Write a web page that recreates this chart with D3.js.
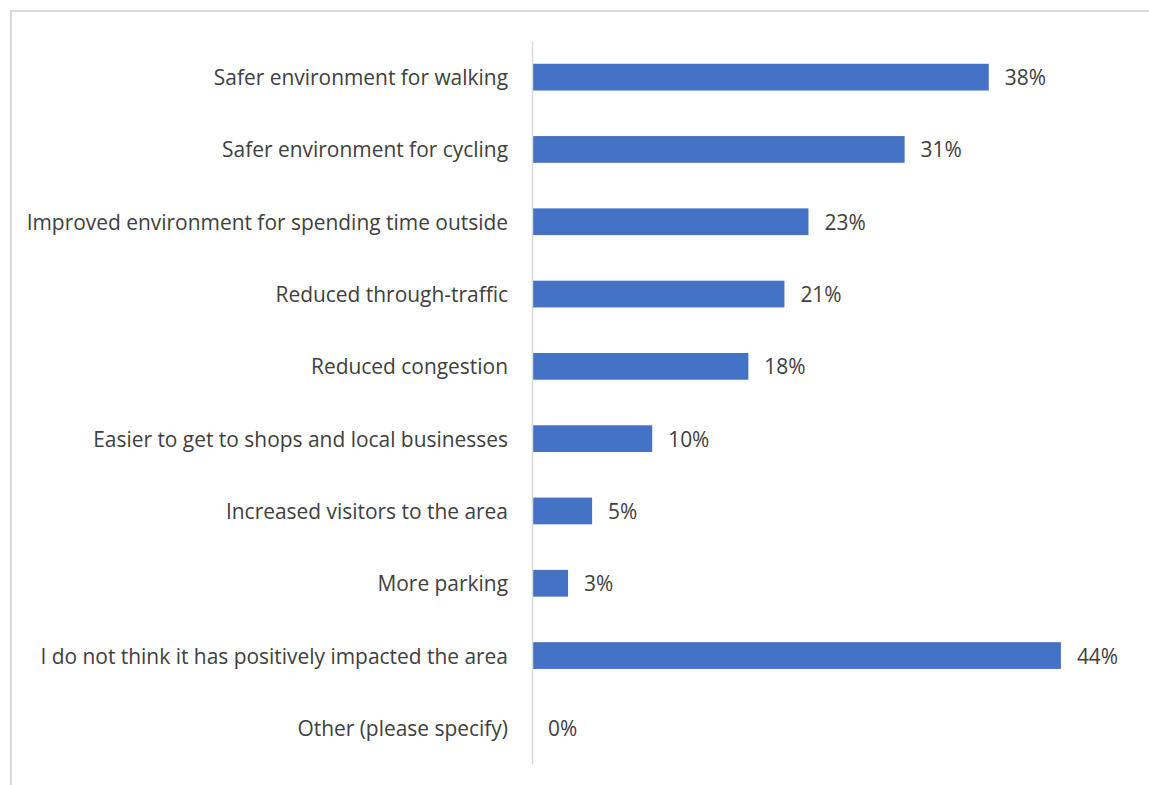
<!DOCTYPE html>
<html>
<head>
<meta charset="utf-8">
<script src="https://cdn.jsdelivr.net/npm/d3@7"></script>
<style>
  html, body { margin: 0; padding: 0; background: #fff; }
  svg { display: block; }
  text { font-family: "Open Sans", "Noto Sans", sans-serif; fill: #404040; }
</style>
</head>
<body>
<svg id="chart" width="1149" height="785"></svg>
<script>
// Survey responses: perceived positive impacts
const categories = [
  "Safer environment for walking",
  "Safer environment for cycling",
  "Improved environment for spending time outside",
  "Reduced through-traffic",
  "Reduced congestion",
  "Easier to get to shops and local businesses",
  "Increased visitors to the area",
  "More parking",
  "I do not think it has positively impacted the area",
  "Other (please specify)"
];
const values = [38, 31, 23, 21, 18, 10, 5, 3, 44, 0];

const svg = d3.select("#chart");
const W = 1149, H = 785;

// chart frame (extends past the bottom/right edge)
svg.append("rect")
  .attr("x", 11).attr("y", 11)
  .attr("width", W + 20).attr("height", H + 20)
  .attr("fill", "none").attr("stroke", "#d9d9d9").attr("stroke-width", 2);

const x0 = 532;
const x = d3.scaleLinear().domain([0, 44]).range([x0, x0 + 44 * 12.02]);
const y = d3.scaleBand().domain(categories).range([41, 764])
  .paddingInner(0.63).paddingOuter(0.315);

svg.selectAll("rect.bar").data(values).join("rect")
  .attr("class", "bar")
  .attr("x", x(0))
  .attr("y", (d, i) => y(categories[i]))
  .attr("width", d => x(d) - x(0))
  .attr("height", y.bandwidth())
  .attr("fill", "#4472c4");

// size text so the longest category label spans the label column
const probe = svg.append("text").attr("font-size", 20)
  .text(categories.reduce((a, b) => (a.length > b.length ? a : b)));
const fontSize = 20 * 468 / probe.node().getComputedTextLength();
probe.remove();

// vertical category axis
const axis = d3.axisLeft(y).tickSize(0).tickPadding(24);
const g = svg.append("g").attr("transform", `translate(${x0},0)`).call(axis);
g.select(".domain").attr("stroke", "#d9d9d9").attr("stroke-width", 1.5);
g.selectAll(".tick text")
  .attr("font-size", fontSize)
  .attr("font-family", null)
  .attr("dy", "0.38em")
  .attr("fill", "#404040");

svg.selectAll("text.val").data(values).join("text")
  .attr("class", "val")
  .attr("x", d => x(d) + 16)
  .attr("y", (d, i) => y(categories[i]) + y.bandwidth() / 2)
  .attr("dy", "0.38em")
  .attr("font-size", fontSize)
  .text(d => d + "%");
</script>
</body>
</html>
